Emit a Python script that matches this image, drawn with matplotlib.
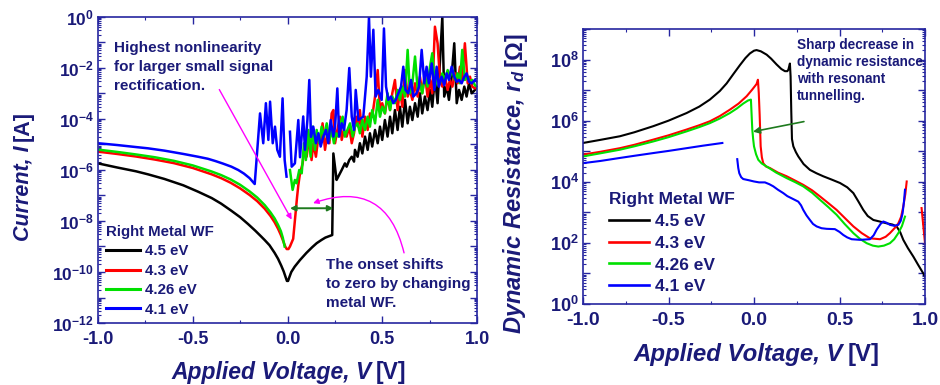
import numpy as np
import matplotlib
matplotlib.use('Agg')
import matplotlib.pyplot as plt
from matplotlib.ticker import FixedLocator, FuncFormatter, MultipleLocator

plt.rcParams['font.family'] = ['Liberation Sans', 'DejaVu Sans']
plt.rcParams['font.weight'] = 'bold'
plt.rcParams['mathtext.fontset'] = 'custom'
plt.rcParams['mathtext.rm'] = 'Liberation Sans:bold'
plt.rcParams['mathtext.bf'] = 'Liberation Sans:bold'
plt.rcParams['mathtext.it'] = 'Liberation Sans:bold:italic'
plt.rcParams['axes.unicode_minus'] = False

NAVY = '#1a1a78'
FRAME = '#2626a0'
DKGREEN = '#1e7a1e'

labels = ['4.5 eV', '4.3 eV', '4.26 eV', '4.1 eV']
colors = ['black', '#ff0000', '#00e000', '#0000ff']

# ---- left panel: (V, log10 I) ----
iv_black = [(-1.0, -5.74), (-0.9, -5.9), (-0.8, -6.05), (-0.736, -6.17), (-0.65, -6.35),
            (-0.55, -6.6), (-0.472, -6.85), (-0.4, -7.1), (-0.35, -7.32), (-0.296, -7.6),
            (-0.25, -7.85), (-0.208, -8.12), (-0.17, -8.38), (-0.14, -8.6), (-0.12, -8.75),
            (-0.095, -8.95), (-0.068, -9.25), (-0.05, -9.48), (-0.033, -9.75), (-0.02, -9.98),
            (-0.01, -10.2), (-0.003, -10.35), (0.003, -10.35), (0.01, -10.2), (0.02, -10.0),
            (0.038, -9.79), (0.066, -9.53), (0.1, -9.25), (0.13, -9.03), (0.154, -8.87),
            (0.18, -8.74), (0.2, -8.65), (0.236, -8.55), (0.242, -5.35), (0.259, -6.39),
            (0.268, -6.26), (0.286, -6.0), (0.303, -5.74), (0.312, -5.87), (0.326, -5.61),
            (0.339, -5.48), (0.351, -5.67),
            (0.356, -5.21), (0.370, -5.48), (0.382, -4.95), (0.395, -5.35), (0.409, -4.69),
            (0.423, -5.21), (0.435, -4.56), (0.447, -5.08), (0.462, -4.43), (0.476, -4.95),
            (0.488, -4.30), (0.500, -4.82), (0.514, -4.04), (0.528, -4.69), (0.541, -3.91),
            (0.553, -4.56), (0.567, -3.65), (0.581, -4.43), (0.593, -3.52), (0.606, -4.30),
            (0.620, -3.25), (0.634, -4.17), (0.646, -3.52), (0.659, -4.04), (0.673, -3.38),
            (0.687, -3.91), (0.699, -2.99), (0.711, -3.78), (0.725, -3.12), (0.739, -3.65),
            (0.752, -2.86), (0.764, -3.52), (0.778, -2.34), (0.792, -3.38), (0.805, -1.69),
            (0.817, 0.0), (0.827, -3.12), (0.840, -2.73), (0.852, -3.25), (0.866, -2.34),
            (0.880, -1.03), (0.893, -3.38), (0.905, -2.86), (0.919, -3.25), (0.933, -2.73),
            (0.945, -3.12), (0.958, -2.60), (0.972, -2.99), (0.989, -2.86), (1.0, -2.73)]

iv_red = [(-1.0, -5.28), (-0.9, -5.37), (-0.8, -5.47), (-0.7, -5.59), (-0.6, -5.73),
          (-0.5, -5.92), (-0.4, -6.17), (-0.35, -6.32), (-0.3, -6.5), (-0.25, -6.72),
          (-0.2, -6.98), (-0.16, -7.22), (-0.12, -7.52), (-0.09, -7.8), (-0.068, -8.05),
          (-0.05, -8.3), (-0.035, -8.55), (-0.022, -8.8), (-0.012, -9.0), (-0.004, -9.1),
          (0.005, -9.1), (0.013, -9.0), (0.03, -8.7), (0.04, -7.9),
          (0.05, -7.1), (0.057, -6.6), (0.066, -6.13), (0.080, -5.74), (0.092, -4.95),
          (0.101, -5.48), (0.115, -4.69), (0.127, -5.61), (0.136, -4.95), (0.150, -5.48),
          (0.163, -4.69), (0.175, -4.95), (0.185, -4.17), (0.198, -5.21), (0.210, -4.56),
          (0.221, -4.95), (0.233, -3.78), (0.242, -3.65), (0.251, -4.95), (0.263, -4.43),
          (0.277, -3.91), (0.286, -4.82), (0.298, -4.43), (0.312, -4.69), (0.326, -4.30),
          (0.339, -4.95), (0.351, -4.56), (0.362, -3.91), (0.374, -4.30), (0.382, -3.65),
          (0.395, -4.69), (0.409, -3.91), (0.423, -4.43), (0.435, -3.78), (0.447, -3.91),
          (0.462, -3.12), (0.476, -2.08), (0.488, -3.65), (0.500, -3.38), (0.514, -3.78),
          (0.528, -3.12), (0.541, -3.65), (0.553, -2.99), (0.567, -2.47), (0.581, -3.65),
          (0.593, -2.86), (0.606, -3.52), (0.620, -2.08), (0.634, -3.12), (0.646, -2.86),
          (0.659, -3.25), (0.673, -2.60), (0.687, -3.12), (0.699, -2.34), (0.711, -2.99),
          (0.725, -2.21), (0.739, -3.12), (0.752, -2.47), (0.764, -2.99), (0.778, -0.38),
          (0.792, -1.03), (0.805, -2.47), (0.817, -2.73), (0.831, -2.34), (0.845, -2.86),
          (0.857, -2.47), (0.870, -2.73), (0.884, -2.21), (0.898, -2.60), (0.910, -1.95),
          (0.922, -2.47), (0.936, -1.03), (0.951, -2.60), (0.963, -2.34), (0.975, -2.73),
          (0.989, -2.80), (1.0, -2.73)]

iv_green = [(-1.0, -5.2), (-0.9, -5.29), (-0.8, -5.39), (-0.7, -5.5), (-0.6, -5.64),
            (-0.5, -5.82), (-0.4, -6.06), (-0.35, -6.2), (-0.3, -6.37), (-0.25, -6.58),
            (-0.2, -6.84), (-0.16, -7.08), (-0.12, -7.38), (-0.09, -7.66), (-0.068, -7.9),
            (-0.05, -8.15), (-0.035, -8.4), (-0.025, -8.65), (-0.015, -9.0),
            (0.0, np.nan),
            (0.013, -6.0), (0.027, -6.78), (0.039, -6.39), (0.048, -6.52), (0.062, -6.0),
            (0.075, -6.13), (0.087, -4.95), (0.097, -5.61), (0.110, -4.43), (0.122, -5.48),
            (0.133, -4.30), (0.145, -5.21), (0.154, -4.43), (0.168, -4.95), (0.180, -4.30),
            (0.192, -4.69), (0.207, -4.17), (0.221, -4.82), (0.233, -4.43), (0.245, -4.95),
            (0.256, -4.56), (0.268, -4.69), (0.280, -4.17), (0.291, -3.91), (0.303, -4.69),
            (0.316, -4.43), (0.330, -4.17), (0.344, -4.69), (0.356, -4.30), (0.370, -4.17),
            (0.382, -4.56), (0.395, -4.04), (0.409, -4.43), (0.423, -3.91), (0.435, -4.30),
            (0.447, -3.65), (0.462, -4.17), (0.476, -3.25), (0.488, -3.91), (0.500, -3.52),
            (0.514, -3.78), (0.528, -2.99), (0.541, -3.65), (0.553, -3.12), (0.567, -3.38),
            (0.581, -2.86), (0.593, -3.25), (0.606, -2.73), (0.620, -3.12), (0.634, -1.29),
            (0.646, -2.99), (0.659, -2.60), (0.673, -1.55), (0.687, -2.86), (0.699, -2.60),
            (0.711, -2.99), (0.725, -2.34), (0.739, -2.73), (0.752, -1.95), (0.764, -1.42),
            (0.778, -2.73), (0.792, -2.34), (0.805, -2.60), (0.817, -2.21), (0.831, -2.47),
            (0.845, -2.08), (0.857, -2.34), (0.870, -2.08), (0.884, -2.47), (0.898, -2.21),
            (0.910, -2.60), (0.922, -1.29), (0.936, -2.47), (0.951, -2.34), (0.963, -2.54),
            (0.975, -2.47), (0.989, -2.67), (1.0, -2.73)]

iv_blue = [(-1.0, -4.95), (-0.9, -5.02), (-0.8, -5.1), (-0.736, -5.15), (-0.65, -5.24),
           (-0.55, -5.37), (-0.472, -5.48), (-0.42, -5.56), (-0.38, -5.65), (-0.34, -5.75),
           (-0.296, -5.87), (-0.26, -6.0), (-0.23, -6.14), (-0.2, -6.32),
           (-0.173, -6.55), (-0.145, -3.78), (-0.128, -4.95), (-0.114, -3.38), (-0.101, -4.82),
           (-0.092, -3.32), (-0.078, -4.95), (-0.066, -4.30), (-0.054, -5.21), (-0.040, -5.48),
           (-0.026, -3.19), (-0.015, -5.61), (-0.005, -6.26),
           (0.005, np.nan),
           (0.013, -4.50), (0.022, -5.87), (0.039, -5.74), (0.057, -4.04), (0.066, -5.5),
           (0.083, -3.9), (0.092, -5.21), (0.105, -4.04), (0.115, -2.47), (0.124, -4.7),
           (0.136, -4.30), (0.150, -4.95), (0.163, -4.56), (0.175, -5.08), (0.189, -4.69),
           (0.203, -4.43), (0.215, -4.95), (0.228, -4.04), (0.242, -4.69), (0.251, -4.30),
           (0.263, -2.8), (0.273, -4.69), (0.286, -4.17), (0.298, -4.43), (0.312, -3.65),
           (0.326, -2.0), (0.339, -3.91), (0.351, -4.43), (0.360, -2.86), (0.374, -4.04),
           (0.400, -3.91), (0.418, -2.34), (0.430, 0.0), (0.440, -2.34), (0.453, -0.5),
           (0.465, -3.12), (0.479, -2.86), (0.497, -3.25), (0.509, -0.45), (0.520, -2.73),
           (0.532, -3.25), (0.546, -3.12), (0.558, -3.38), (0.571, -3.25), (0.585, -2.99),
           (0.599, -2.73), (0.611, -1.95), (0.623, -2.86), (0.637, -2.99), (0.652, -2.47),
           (0.664, -3.12), (0.681, -2.99), (0.694, -2.73), (0.708, -1.29), (0.722, -2.60),
           (0.734, -1.95), (0.746, -2.60), (0.761, -1.82), (0.775, -2.86), (0.787, -1.95),
           (0.799, -2.73), (0.813, -2.34), (0.827, -2.67), (0.840, -2.21), (0.852, -2.47),
           (0.866, -1.95), (0.880, -2.34), (0.893, -2.54), (0.905, -2.47), (0.919, -2.60),
           (0.933, -2.34), (0.945, -2.21), (0.958, -2.54), (0.972, -2.60), (0.989, -2.47),
           (1.0, -2.54)]

# ---- right panel: (V, log10 r_d) ----
rd_black = [(-1.0, 5.27), (-0.9, 5.37), (-0.784, 5.49), (-0.7, 5.62), (-0.589, 5.82),
            (-0.5, 6.0), (-0.394, 6.25), (-0.32, 6.46), (-0.258, 6.69), (-0.2, 6.97),
            (-0.160, 7.22), (-0.12, 7.53), (-0.082, 7.82), (-0.05, 8.05), (-0.024, 8.2),
            (0.0, 8.29), (0.015, 8.31), (0.04, 8.27), (0.074, 8.16), (0.1, 8.03),
            (0.132, 7.84), (0.16, 7.69), (0.181, 7.62), (0.195, 7.62), (0.201, 7.67),
            (0.210, 7.87), (0.214, 7.45), (0.218, 6.3), (0.222, 5.4), (0.230, 5.16),
            (0.245, 4.97), (0.259, 4.83), (0.29, 4.58), (0.327, 4.39), (0.365, 4.28),
            (0.405, 4.18), (0.455, 4.07), (0.503, 3.96), (0.545, 3.82), (0.581, 3.63),
            (0.61, 3.36), (0.639, 3.08), (0.665, 2.88), (0.698, 2.75), (0.735, 2.7),
            (0.776, 2.64), (0.81, 2.6), (0.834, 2.54), (0.855, 2.35), (0.873, 2.10),
            (0.9, 1.83), (0.932, 1.55), (0.96, 1.28), (0.990, 1.0), (1.0, 0.9)]

rd_red = [(-1.0, 4.89), (-0.9, 4.98), (-0.784, 5.10), (-0.7, 5.21), (-0.589, 5.38),
          (-0.5, 5.52), (-0.394, 5.71), (-0.32, 5.85), (-0.258, 5.98), (-0.2, 6.15),
          (-0.141, 6.36), (-0.09, 6.56), (-0.043, 6.80), (-0.01, 7.02), (0.015, 7.2),
          (0.023, 7.34), (0.028, 6.9), (0.033, 6.2), (0.039, 5.16), (0.046, 4.8),
          (0.054, 4.61), (0.07, 4.5), (0.093, 4.45), (0.14, 4.3), (0.191, 4.18),
          (0.24, 4.04), (0.288, 3.90), (0.34, 3.72), (0.386, 3.52), (0.435, 3.3),
          (0.483, 3.08), (0.53, 2.82), (0.581, 2.54), (0.63, 2.32), (0.678, 2.15),
          (0.737, 2.12), (0.77, 2.2), (0.795, 2.32), (0.825, 2.5), (0.844, 2.64),
          (0.86, 2.85), (0.873, 3.19), (0.885, 3.6), (0.893, 4.01),
          (0.94, np.nan), (0.980, 3.14), (1.0, 1.99)]

rd_green = [(-1.0, 4.83), (-0.9, 4.93), (-0.784, 5.05), (-0.7, 5.16), (-0.589, 5.32),
            (-0.5, 5.46), (-0.394, 5.65), (-0.32, 5.79), (-0.258, 5.92), (-0.2, 6.07),
            (-0.141, 6.25), (-0.1, 6.4), (-0.063, 6.56), (-0.035, 6.66), (-0.018, 6.69),
            (-0.014, 6.2), (-0.010, 5.71), (-0.005, 5.4), (0.0, 5.16), (0.012, 4.9),
            (0.025, 4.72), (0.045, 4.6), (0.074, 4.50), (0.13, 4.3), (0.191, 4.12),
            (0.24, 3.99), (0.288, 3.85), (0.34, 3.64), (0.386, 3.41), (0.435, 3.17),
            (0.483, 2.92), (0.53, 2.62), (0.581, 2.32), (0.62, 2.13), (0.659, 1.99),
            (0.695, 1.91), (0.727, 1.88), (0.76, 1.91), (0.795, 1.99), (0.82, 2.12),
            (0.844, 2.32), (0.865, 2.55), (0.883, 2.86)]

rd_blue = [(-1.0, 4.61), (-0.9, 4.68), (-0.784, 4.78), (-0.7, 4.85), (-0.589, 4.94),
           (-0.5, 5.01), (-0.394, 5.10), (-0.3, 5.18), (-0.185, 5.27),
           (-0.14, np.nan),
           (-0.098, 4.74), (-0.092, 4.45), (-0.086, 4.28), (-0.075, 4.15), (-0.063, 4.09),
           (-0.03, 4.05), (0.0, 4.01), (0.03, 3.98), (0.064, 3.98), (0.09, 3.92),
           (0.113, 3.85), (0.14, 3.74), (0.171, 3.63), (0.195, 3.53), (0.220, 3.46),
           (0.259, 3.35), (0.275, 3.23), (0.288, 3.08), (0.307, 2.9), (0.327, 2.75),
           (0.345, 2.62), (0.366, 2.54), (0.395, 2.48), (0.425, 2.46), (0.473, 2.45),
           (0.5, 2.36), (0.522, 2.26), (0.545, 2.18), (0.571, 2.12), (0.620, 2.10),
           (0.678, 2.12), (0.7, 2.25), (0.717, 2.43), (0.74, 2.62), (0.756, 2.70),
           (0.775, 2.66), (0.795, 2.59), (0.82, 2.56), (0.844, 2.59), (0.858, 2.72),
           (0.869, 2.97), (0.877, 3.35), (0.883, 3.74)]


def decade_label(val, pos):
    e = int(round(np.log10(val)))
    if e % 2:
        return ''
    return r'$\mathbf{10^{%d}}$' % e


def style_axes(ax, emin, emax, xfs, yfs):
    ax.set_xlim(-1, 1)
    ax.set_yscale('log')
    ax.set_ylim(10.0 ** emin, 10.0 ** emax)
    ax.xaxis.set_major_locator(MultipleLocator(0.5))
    ax.xaxis.set_minor_locator(MultipleLocator(0.25))
    ax.xaxis.set_major_formatter(FuncFormatter(lambda v, p: '%.1f' % v))
    ax.yaxis.set_major_locator(FixedLocator(10.0 ** np.arange(emin, emax + 1)))
    minors = [m * 10.0 ** e for e in range(emin, emax) for m in range(2, 10)]
    ax.yaxis.set_minor_locator(FixedLocator(minors))
    ax.yaxis.set_major_formatter(FuncFormatter(decade_label))
    ax.yaxis.set_minor_formatter(FuncFormatter(lambda v, p: ''))
    ax.tick_params(which='both', direction='in', top=True, right=True, colors=FRAME)
    ax.tick_params(which='major', length=5, width=1)
    ax.tick_params(which='minor', length=2.5, width=0.8)
    ax.tick_params(axis='x', labelsize=xfs, labelcolor=NAVY, pad=6)
    ax.tick_params(axis='y', labelsize=yfs, labelcolor=NAVY, pad=3)
    for s in ax.spines.values():
        s.set_color(FRAME)
        s.set_linewidth(1.2)


def add_legend(ax, anchor, fs, lw, spacing):
    leg = ax.legend(title='Right Metal WF', loc='upper left', bbox_to_anchor=anchor,
                    frameon=False, prop=dict(weight='bold', size=fs),
                    title_fontproperties=dict(weight='bold', size=fs),
                    alignment='left', handlelength=2.3, handletextpad=0.35,
                    labelspacing=spacing, borderaxespad=0, borderpad=0, labelcolor=NAVY)
    leg.get_title().set_color(NAVY)
    for h in leg.get_lines():
        h.set_linewidth(lw + 0.4)
    return leg


fig = plt.figure(figsize=(9.4, 3.85), dpi=100)
ax1 = fig.add_axes([98 / 940, 62 / 385, 379 / 940, 306 / 385])
ax2 = fig.add_axes([583 / 940, 81 / 385, 342 / 940, 275 / 385])

# left: I-V
for data, c, lab in zip([iv_black, iv_red, iv_green, iv_blue], colors, labels):
    v, logi = np.array(data).T
    ax1.plot(v, 10.0 ** logi, color=c, lw=1.8, label=lab)
style_axes(ax1, -12, 0, 13, 12.5)
add_legend(ax1, (0.02, 0.32), 10.8, 1.8, 0.36)

ax1.text(0.042, 0.922, 'Highest nonlinearity\nfor larger small signal\nrectification.',
         transform=ax1.transAxes, ha='left', va='top', fontsize=11, color=NAVY,
         linespacing=1.45)
ax1.text(0.602, 0.212, 'The onset shifts\nto zero by changing\nmetal WF.',
         transform=ax1.transAxes, ha='left', va='top', fontsize=11, color=NAVY,
         linespacing=1.45)
ax1.annotate('', xy=(0.029, 10 ** -8.04), xytext=(-0.367, 10 ** -2.75),
             arrowprops=dict(arrowstyle='-|>', color='magenta', lw=1, mutation_scale=8))
ax1.annotate('', xy=(0.013, 10 ** -7.5), xytext=(0.242, 10 ** -7.5),
             arrowprops=dict(arrowstyle='<|-|>', color=DKGREEN, lw=1.4, mutation_scale=8,
                             shrinkA=0, shrinkB=0))
ax1.annotate('', xy=(0.135, 10 ** -7.3), xytext=(0.615, 10 ** -9.25),
             arrowprops=dict(arrowstyle='-|>', color='magenta', lw=1, mutation_scale=8,
                             connectionstyle='arc3,rad=0.55', shrinkA=0, shrinkB=0))

# right: dynamic resistance
for data, c, lab in zip([rd_black, rd_red, rd_green, rd_blue], colors, labels):
    v, logr = np.array(data).T
    ax2.plot(v, 10.0 ** logr, color=c, lw=1.5, label=lab)
style_axes(ax2, 0, 9, 14, 13)
add_legend(ax2, (0.075, 0.408), 12.5, 1.5, 0.39)

ax2.text(0.626, 0.968, 'Sharp decrease in\ndynamic resistance\nwith resonant\ntunnelling.',
         transform=ax2.transAxes, ha='left', va='top', fontsize=9.8, color=NAVY,
         linespacing=1.27)
ax2.annotate('', xy=(-0.006, 10 ** 5.64), xytext=(0.292, 10 ** 5.97),
             arrowprops=dict(arrowstyle='-|>', color=DKGREEN, lw=1.2, mutation_scale=10,
                             shrinkA=0, shrinkB=0))

# axis labels: italic part + upright unit
fig.text(372 / 940, 1 - 372 / 385, 'Applied Voltage, V', fontsize=16.5, style='italic',
         color=NAVY, ha='right', va='center')
fig.text(376 / 940, 1 - 372 / 385, '[V]', fontsize=16.5, color=NAVY, ha='left', va='center')
fig.text(843 / 940, 1 - 355 / 385, 'Applied Voltage, V', fontsize=17.3, style='italic',
         color=NAVY, ha='right', va='center')
fig.text(848 / 940, 1 - 355 / 385, '[V]', fontsize=17.3, color=NAVY, ha='left', va='center')

fig.text(23 / 940, 1 - 145 / 385, 'Current, I', fontsize=15.5, style='italic', color=NAVY,
         rotation=90, ha='center', va='top')
fig.text(23 / 940, 1 - 141 / 385, '[A]', fontsize=15.5, color=NAVY, rotation=90,
         ha='center', va='bottom')
fig.text(515 / 940, 1 - 70 / 385, r'Dynamic Resistance, $r_d$', fontsize=17,
         style='italic', color=NAVY, rotation=90, ha='center', va='top')
fig.text(515 / 940, 1 - 66 / 385, '[Ω]', fontsize=17, color=NAVY, rotation=90,
         ha='center', va='bottom')

fig.savefig('out.png', dpi=100)
